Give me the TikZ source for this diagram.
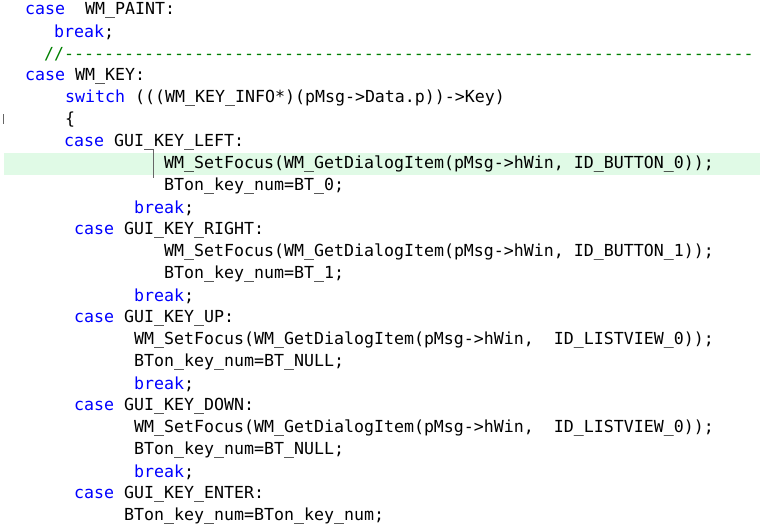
\documentclass[tikz,border=0pt]{standalone}
\usepackage{fontspec}
\setmonofont{DejaVu Sans Mono}
\definecolor{kw}{RGB}{0,0,255}
\definecolor{cmt}{RGB}{0,128,0}
\definecolor{hl}{RGB}{224,250,230}
\newcommand{\kw}[1]{\textcolor{kw}{#1}}
\tikzset{
  code/.style={anchor=west, inner sep=0pt, font=\ttfamily\fontsize{16.6}{18}\selectfont}
}
\begin{document}
\begin{tikzpicture}[x=1pt,y=-1pt]
  \useasboundingbox (0,0) rectangle (760,530);
  % current line highlight
  \fill[hl] (4,153) rectangle (760,175);
  \draw[black!60] (3,114) -- (3,124);
  \draw[black!60] (153,150) -- (153,178);
  % code lines
  \node[code] (l1) at (25,10) {\kw{case}\ \ WM\_PAINT:};
  \node[code] (l2) at (54,32) {\kw{break};};
  \node[code] (l3) at (44,54) {\textcolor{cmt}{//---------------------------------------------------------------------}};
  \node[code] (l4) at (25,76) {\kw{case} WM\_KEY:};
  \node[code] (l5) at (65,98) {\kw{switch} (((WM\_KEY\_INFO*)(pMsg->Data.p))->Key)};
  \node[code] (l6) at (65,120) {\{};
  \node[code] (l7) at (64,142) {\kw{case} GUI\_KEY\_LEFT:};
  \node[code] (l8) at (164,164) {WM\_SetFocus(WM\_GetDialogItem(pMsg->hWin, ID\_BUTTON\_0));};
  \node[code] (l9) at (164,186) {BTon\_key\_num=BT\_0;};
  \node[code] (l10) at (134,208) {\kw{break};};
  \node[code] (l11) at (74,230) {\kw{case} GUI\_KEY\_RIGHT:};
  \node[code] (l12) at (164,252) {WM\_SetFocus(WM\_GetDialogItem(pMsg->hWin, ID\_BUTTON\_1));};
  \node[code] (l13) at (164,274) {BTon\_key\_num=BT\_1;};
  \node[code] (l14) at (134,296) {\kw{break};};
  \node[code] (l15) at (74,318) {\kw{case} GUI\_KEY\_UP:};
  \node[code] (l16) at (134,340) {WM\_SetFocus(WM\_GetDialogItem(pMsg->hWin,\ \ ID\_LISTVIEW\_0));};
  \node[code] (l17) at (134,362) {BTon\_key\_num=BT\_NULL;};
  \node[code] (l18) at (134,384) {\kw{break};};
  \node[code] (l19) at (74,406) {\kw{case} GUI\_KEY\_DOWN:};
  \node[code] (l20) at (134,428) {WM\_SetFocus(WM\_GetDialogItem(pMsg->hWin,\ \ ID\_LISTVIEW\_0));};
  \node[code] (l21) at (134,450) {BTon\_key\_num=BT\_NULL;};
  \node[code] (l22) at (134,472) {\kw{break};};
  \node[code] (l23) at (74,494) {\kw{case} GUI\_KEY\_ENTER:};
  \node[code] (l24) at (124,516) {BTon\_key\_num=BTon\_key\_num;};
\end{tikzpicture}
\end{document}
